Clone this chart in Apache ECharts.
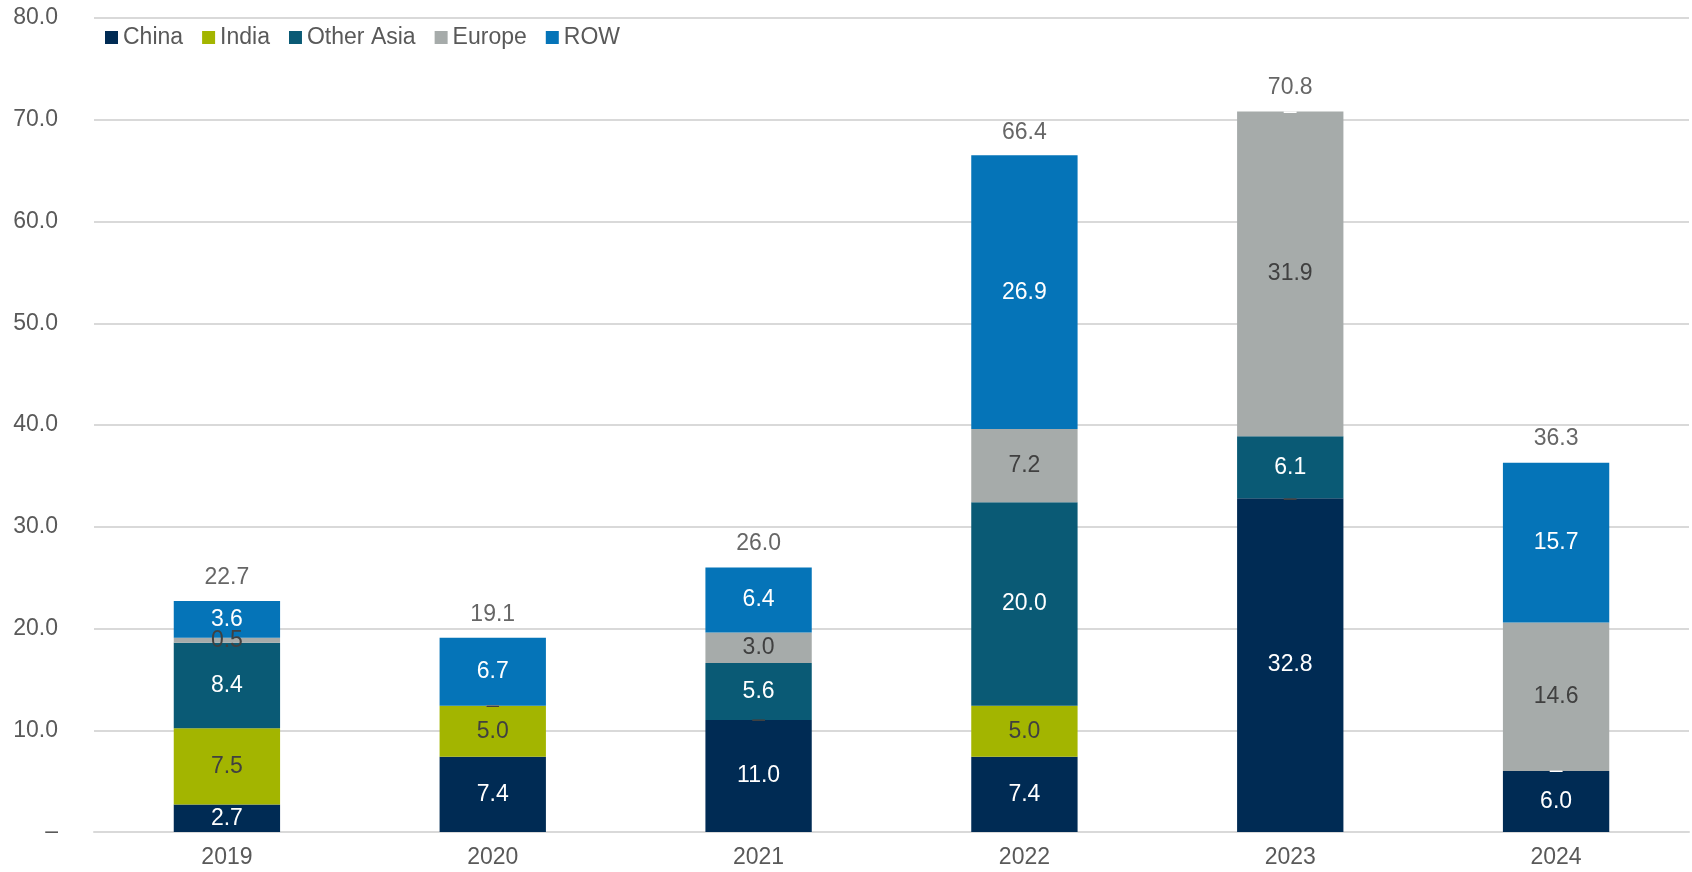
<!DOCTYPE html>
<html><head><meta charset="utf-8">
<script src="https://cdn.jsdelivr.net/npm/echarts@6/dist/echarts.min.js"></script>
<style>html,body{margin:0;padding:0;background:#fff}#c{width:1692px;height:872px}</style>
</head><body><div id="c"></div>
<script>
var categories = ['2019','2020','2021','2022','2023','2024'];
var china = [2.7, 7.4, 11.0, 7.4, 32.8, 6.0];
var india = [7.5, 5.0, 0, 5.0, 0, 0];
var otherAsia = [8.4, 0, 5.6, 20.0, 6.1, 0];
var europe = [0.5, 0, 3.0, 7.2, 31.9, 14.6];
var row = [3.6, 6.7, 6.4, 26.9, 0, 15.7];
var totals = [22.7, 19.1, 26.0, 66.4, 70.8, 36.3];

var FONT = '"Liberation Sans", Arial, sans-serif';
var FS = 23;
function seg(name, data, color, labelColor) {
  return {
    name: name, type: 'bar', stack: 'a', data: data, barWidth: '40%',
    itemStyle: { color: color },
    label: {
      show: true, position: 'inside', color: labelColor, fontSize: FS, fontFamily: FONT,
      formatter: function (p) { return p.value === 0 ? '–' : p.value.toFixed(1); }
    }
  };
}
var chart = echarts.init(document.getElementById('c'));
chart.setOption({
  animation: false,
  textStyle: { fontFamily: FONT },
  grid: { left: 94, right: 3, top: 18, bottom: 40 },
  legend: {
    left: 100, top: 21, itemWidth: 13, itemHeight: 13, itemGap: 19, itemTextGap: 5,
    icon: 'rect',
    textStyle: { fontSize: FS, color: '#595959', fontFamily: FONT },
    data: ['China', 'India', 'Other Asia', 'Europe', 'ROW']
  },
  xAxis: {
    type: 'category', data: categories,
    axisLine: { lineStyle: { color: '#d9d9d9', width: 2 } },
    axisTick: { show: false },
    axisLabel: { fontSize: FS, color: '#595959', margin: 14 }
  },
  yAxis: {
    type: 'value', min: 0, max: 80, interval: 10,
    axisLine: { show: false }, axisTick: { show: false },
    splitLine: { lineStyle: { color: '#d9d9d9', width: 2 } },
    axisLabel: {
      fontSize: FS, color: '#595959', margin: 36,
      formatter: function (v) { return v === 0 ? '–' : v.toFixed(1); }
    }
  },
  series: [
    seg('China', china, '#002B54', '#ffffff'),
    seg('India', india, '#A3B500', '#404040'),
    seg('Other Asia', otherAsia, '#0A5A75', '#ffffff'),
    seg('Europe', europe, '#A6ABAA', '#404040'),
    seg('ROW', row, '#0574B8', '#ffffff'),
    {
      name: 'Total', type: 'scatter', data: totals, symbolSize: 0,
      label: { show: true, position: 'top', distance: 12, color: '#404040', fontSize: FS, fontFamily: FONT,
        formatter: function (p) { return p.value.toFixed(1); } },
      silent: true
    }
  ]
});
</script></body></html>
